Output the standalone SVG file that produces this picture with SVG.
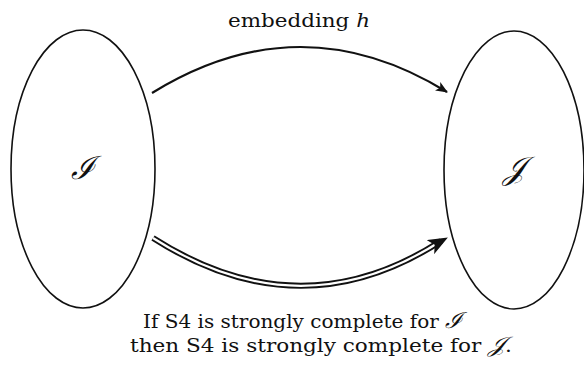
<svg xmlns="http://www.w3.org/2000/svg" width="584" height="370" viewBox="0 0 584 370">
<style>
.set{fill:none;stroke:#111;stroke-width:1.6}
.t{fill:#111;font-family:'DejaVu Serif','Liberation Serif',serif}
.m{font-style:italic;fill:#111;font-family:'DejaVu Serif',serif}
</style>
<defs>
<marker id="ah" viewBox="0 0 12 10" refX="11" refY="5" markerWidth="12" markerHeight="10" markerUnits="userSpaceOnUse" orient="auto">
<path d="M0,0 L12,5 L0,10 L3,5 Z" fill="#111"/>
</marker>
<marker id="ah2" viewBox="0 0 20 16" refX="19" refY="8" markerWidth="20" markerHeight="16" markerUnits="userSpaceOnUse" orient="auto">
<path d="M0,0 L20,8 L0,16 L5,8 Z" fill="#111"/>
</marker>
</defs>
<rect width="584" height="370" fill="#fff"/>
<g id="nodeI">
<ellipse class="set" cx="83" cy="169" rx="72" ry="139"/>
<text class="m" x="83" y="179" font-size="32" text-anchor="middle">ℐ</text>
</g>
<g id="nodeJ">
<ellipse class="set" cx="514" cy="170" rx="70" ry="139"/>
<text class="m" x="514" y="179" font-size="32" text-anchor="middle">𝒥</text>
</g>
<g id="connectors">
<path d="M152,93 Q300,1.5 447,92" fill="none" stroke="#111" stroke-width="2.2" marker-end="url(#ah)"/>
<path d="M153,238 Q300,332 441,241" fill="none" stroke="#111" stroke-width="6"/>
<path d="M153,238 Q300,332 441,241" fill="none" stroke="#fff" stroke-width="2.2"/>
<path d="M436,244 L447,238" fill="none" stroke="none" marker-end="url(#ah2)"/>
</g>
<g id="labels">
<text class="t" x="228" y="27" font-size="19" textLength="142" lengthAdjust="spacingAndGlyphs">embedding <tspan font-style="italic">h</tspan></text>
<text class="t" x="143" y="328" font-size="19" textLength="319" lengthAdjust="spacingAndGlyphs">If S4 is strongly complete for <tspan class="m" font-size="22">ℐ</tspan></text>
<text class="t" x="130" y="352" font-size="19" textLength="382" lengthAdjust="spacingAndGlyphs">then S4 is strongly complete for <tspan class="m" font-size="22">𝒥</tspan>.</text>
</g>
</svg>
